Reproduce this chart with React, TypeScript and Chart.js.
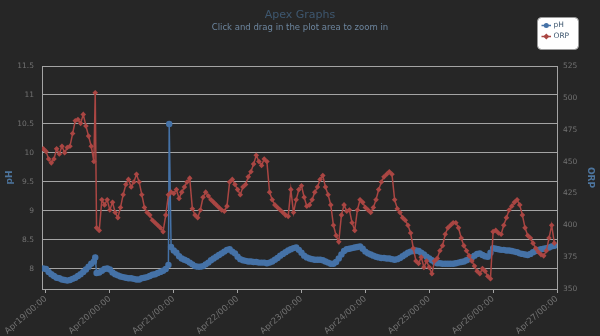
import React, { useEffect, useRef } from 'react';
import { Chart, registerables } from 'chart.js';

Chart.register(...registerables);

// ---------- data ----------
const START_HOUR = -1; // hours relative to Apr19 00:00, one value per hour
const dayLabels = ['Apr19', 'Apr20', 'Apr21', 'Apr22', 'Apr23', 'Apr24', 'Apr25', 'Apr26', 'Apr27'];

const phValues = [
  8.01, 8.00, 7.95, 7.91, 7.88, 7.85, 7.84, 7.82, 7.81, 7.80, 7.81, 7.83,
  7.85, 7.88, 7.91, 7.95, 7.99, 8.04, 8.09, 8.13, 7.93, 7.94, 7.97, 8.00,
  8.01, 7.99, 7.94, 7.91, 7.89, 7.87, 7.86, 7.85, 7.84, 7.84, 7.83, 7.82,
  7.82, 7.84, 7.85, 7.86, 7.88, 7.90, 7.91, 7.93, 7.95, 7.97, 8.00, 8.07,
  8.38, 8.32, 8.28, 8.22, 8.18, 8.16, 8.14, 8.11, 8.08, 8.05, 8.04, 8.04,
  8.05, 8.08, 8.11, 8.15, 8.18, 8.21, 8.24, 8.27, 8.30, 8.33, 8.34, 8.30,
  8.27, 8.21, 8.17, 8.15, 8.14, 8.13, 8.13, 8.12, 8.12, 8.11, 8.11, 8.11,
  8.10, 8.11, 8.13, 8.16, 8.19, 8.23, 8.26, 8.29, 8.32, 8.34, 8.36, 8.37,
  8.33, 8.28, 8.23, 8.20, 8.18, 8.17, 8.16, 8.16, 8.16, 8.15, 8.13, 8.11,
  8.09, 8.09, 8.12, 8.18, 8.25, 8.31, 8.34, 8.35, 8.36, 8.37, 8.38, 8.39,
  8.35, 8.30, 8.27, 8.25, 8.23, 8.21, 8.20, 8.19, 8.19, 8.18, 8.18, 8.17,
  8.16, 8.17, 8.19, 8.22, 8.25, 8.28, 8.30, 8.31, 8.32, 8.31, 8.28, 8.25,
  8.21, 8.18, 8.15, 8.12, 8.10, 8.10, 8.09, 8.09, 8.09, 8.09, 8.09, 8.10,
  8.11, 8.12, 8.13, 8.15, 8.17, 8.20, 8.23, 8.26, 8.27, 8.24, 8.22, 8.21,
  8.28, 8.36, 8.35, 8.34, 8.33, 8.33, 8.32, 8.32, 8.31, 8.30, 8.29, 8.27,
  8.26, 8.25, 8.24, 8.26, 8.29, 8.31, 8.33, 8.34, 8.35, 8.36, 8.37, 8.39,
  8.40,
];

const orpValues = [
  460, 458, 452, 449, 452, 460, 456, 462, 457, 461, 462, 472,
  482, 483, 480, 487, 478, 470, 462, 450, 398, 396, 420, 416,
  420, 412, 418, 410, 406, 414, 424, 432, 436, 430, 434, 440,
  434, 424, 414, 410, 408, 404, 402, 400, 398, 395, 408, 424,
  426, 425, 428, 421, 426, 430, 434, 437, 413, 408, 406, 412,
  422, 426, 423, 420, 418, 416, 414, 412, 411, 415, 434, 436,
  432, 428, 424, 430, 432, 438, 442, 448, 455, 450, 447, 452,
  450, 426, 420, 416, 414, 412, 410, 408, 407, 428, 410, 420,
  428, 431, 422, 415, 416, 420, 426, 430, 436, 439, 430, 424,
  416, 400, 392, 387, 408, 416, 411, 412, 402, 396, 412, 420,
  418, 414, 412, 410, 414, 420, 428, 434, 438, 440, 442, 440,
  420, 413, 410, 406, 404, 400, 394, 382, 372, 370, 375, 367,
  372, 367, 362, 372, 374, 380, 384, 393, 398, 400, 402, 402,
  398, 390, 384, 380, 376, 372, 368, 364, 362, 366, 364, 360,
  358, 395, 396, 394, 393, 400, 406, 412, 415, 418, 420, 416,
  408, 398, 392, 390, 386, 382, 379, 377, 376, 380, 390, 400,
  386,
];

// single off-grid readings (spikes)
const phSpikeHours = [18.5, 46.3];
const phSpikeValues = [8.2, 10.5];
const orpSpikeHours = [18.5];
const orpSpikeValues = [504];

const seriesNames = ['pH', 'ORP'];
const seriesColors = ['#4572A7', '#AA4643'];

// ---------- helpers ----------
function buildSeries(values: number[], spikeHours: number[], spikeValues: number[]) {
  const pts = values.map((v, i) => ({ x: START_HOUR + i, y: v }));
  spikeHours.forEach((h, i) => pts.push({ x: h, y: spikeValues[i] }));
  pts.sort((a, b) => a.x - b.x);
  return pts;
}

const FONT = "'DejaVu Sans', Verdana, sans-serif";
const LABEL_COLOR = '#727272';
const GRID_COLOR = '#a4a4a4';
const AXIS_TITLE_COLOR = '#4D759E';

const bgPlugin = {
  id: 'bgFill',
  beforeDraw(chart: any) {
    const { ctx, width, height } = chart;
    ctx.save();
    ctx.fillStyle = '#262626';
    ctx.fillRect(0, 0, width, height);
    ctx.restore();
  },
};

const legendPlugin = {
  id: 'boxLegend',
  afterDraw(chart: any) {
    const ctx = chart.ctx;
    ctx.save();
    const bx = 537.5, by = 17.5, bw = 41, bh = 32;
    ctx.beginPath();
    if (ctx.roundRect) ctx.roundRect(bx, by, bw, bh, 4);
    else ctx.rect(bx, by, bw, bh);
    ctx.fillStyle = '#ffffff';
    ctx.fill();
    ctx.strokeStyle = '#9a9a9a';
    ctx.lineWidth = 1;
    ctx.stroke();
    seriesNames.forEach((name, i) => {
      const cy = 25.5 + i * 11;
      const color = seriesColors[i];
      ctx.strokeStyle = color;
      ctx.lineWidth = 1.5;
      ctx.beginPath();
      ctx.moveTo(541.5, cy);
      ctx.lineTo(551, cy);
      ctx.stroke();
      ctx.fillStyle = color;
      ctx.beginPath();
      if (i === 0) {
        ctx.arc(546.3, cy, 2.5, 0, Math.PI * 2);
      } else {
        ctx.moveTo(546.3, cy - 3);
        ctx.lineTo(549.3, cy);
        ctx.lineTo(546.3, cy + 3);
        ctx.lineTo(543.3, cy);
        ctx.closePath();
      }
      ctx.fill();
      ctx.fillStyle = '#3E576F';
      ctx.font = `7.5px ${FONT}`;
      ctx.textBaseline = 'middle';
      ctx.textAlign = 'left';
      ctx.fillText(name, 553.5, cy);
    });
    ctx.restore();
  },
};

const numLabel = (v: any) => `${Number(v)}`;

export default function App() {
  const canvasRef = useRef<HTMLCanvasElement | null>(null);

  useEffect(() => {
    document.body.style.margin = '0';
    const canvas = canvasRef.current;
    if (!canvas) return;
    const phData = buildSeries(phValues, phSpikeHours, phSpikeValues);
    const orpData = buildSeries(orpValues, orpSpikeHours, orpSpikeValues);

    const chart = new Chart(canvas, {
      type: 'line',
      data: {
        datasets: [
          {
            label: seriesNames[1],
            data: orpData,
            yAxisID: 'yOrp',
            borderColor: seriesColors[1],
            backgroundColor: seriesColors[1],
            borderWidth: 1.5,
            pointStyle: 'rectRot',
            pointRadius: 2.8,
            pointBorderWidth: 0,
            tension: 0,
          },
          {
            label: seriesNames[0],
            data: phData,
            yAxisID: 'yPh',
            borderColor: seriesColors[0],
            backgroundColor: seriesColors[0],
            borderWidth: 1.5,
            pointStyle: 'circle',
            pointRadius: 3.2,
            pointBorderWidth: 0,
            tension: 0,
          },
        ],
      },
      options: {
        animation: false,
        responsive: true,
        maintainAspectRatio: false,
        layout: { padding: 0 },
        plugins: {
          legend: { display: false },
          tooltip: { enabled: false },
          title: {
            display: true,
            text: 'Apex Graphs',
            color: '#3E576F',
            font: { family: FONT, size: 11, weight: 'normal' },
            padding: { top: 9, bottom: 0 },
          },
          subtitle: {
            display: true,
            text: 'Click and drag in the plot area to zoom in',
            color: '#6D869F',
            font: { family: FONT, size: 8.5, weight: 'normal' },
            padding: { top: 0, bottom: 33.6 },
          },
        },
        scales: {
          x: {
            type: 'linear',
            position: 'bottom',
            min: -1.5,
            max: 192,
            afterFit: (s: any) => {
              s.height = 47;
            },
            ticks: {
              stepSize: 24,
              includeBounds: false,
              autoSkip: false,
              minRotation: 41,
              maxRotation: 41,
              padding: 1,
              color: LABEL_COLOR,
              font: { family: FONT, size: 8.5 },
              callback: (v: any) => `${dayLabels[Math.round(Number(v) / 24)]}/00:00`,
            },
            grid: {
              drawOnChartArea: false,
              drawTicks: true,
              tickLength: 4,
              color: GRID_COLOR,
            },
            border: { color: GRID_COLOR, width: 1 },
          },
          yPh: {
            type: 'linear',
            position: 'left',
            min: 7.655,
            max: 11.5,
            afterFit: (s: any) => {
              s.width = 42;
            },
            ticks: {
              stepSize: 0.5,
              includeBounds: false,
              padding: 8,
              color: LABEL_COLOR,
              font: { family: FONT, size: 7.5 },
              callback: numLabel,
            },
            grid: { color: GRID_COLOR, drawTicks: false, lineWidth: 1 },
            border: { color: GRID_COLOR, width: 1 },
            title: {
              display: true,
              text: 'pH',
              color: AXIS_TITLE_COLOR,
              font: { family: FONT, size: 9, weight: 'bold' },
              padding: { top: 4, bottom: 0 },
            },
          },
          yOrp: {
            type: 'linear',
            position: 'right',
            min: 350,
            max: 525,
            afterFit: (s: any) => {
              s.width = 43;
            },
            ticks: {
              stepSize: 25,
              includeBounds: false,
              padding: 6,
              color: LABEL_COLOR,
              font: { family: FONT, size: 7.5 },
              callback: numLabel,
            },
            grid: { drawOnChartArea: false, drawTicks: false },
            border: { color: GRID_COLOR, width: 1 },
            title: {
              display: true,
              text: 'ORP',
              color: AXIS_TITLE_COLOR,
              font: { family: FONT, size: 9, weight: 'bold' },
              padding: { top: 4, bottom: 0 },
            },
          },
        },
      },
      plugins: [bgPlugin, legendPlugin],
    } as any);

    return () => {
      chart.destroy();
    };
  }, []);

  return (
    <div
      style={{
        position: 'absolute',
        left: 0,
        top: 0,
        width: 600,
        height: 336,
        background: '#262626',
      }}
    >
      <canvas ref={canvasRef} />
    </div>
  );
}
